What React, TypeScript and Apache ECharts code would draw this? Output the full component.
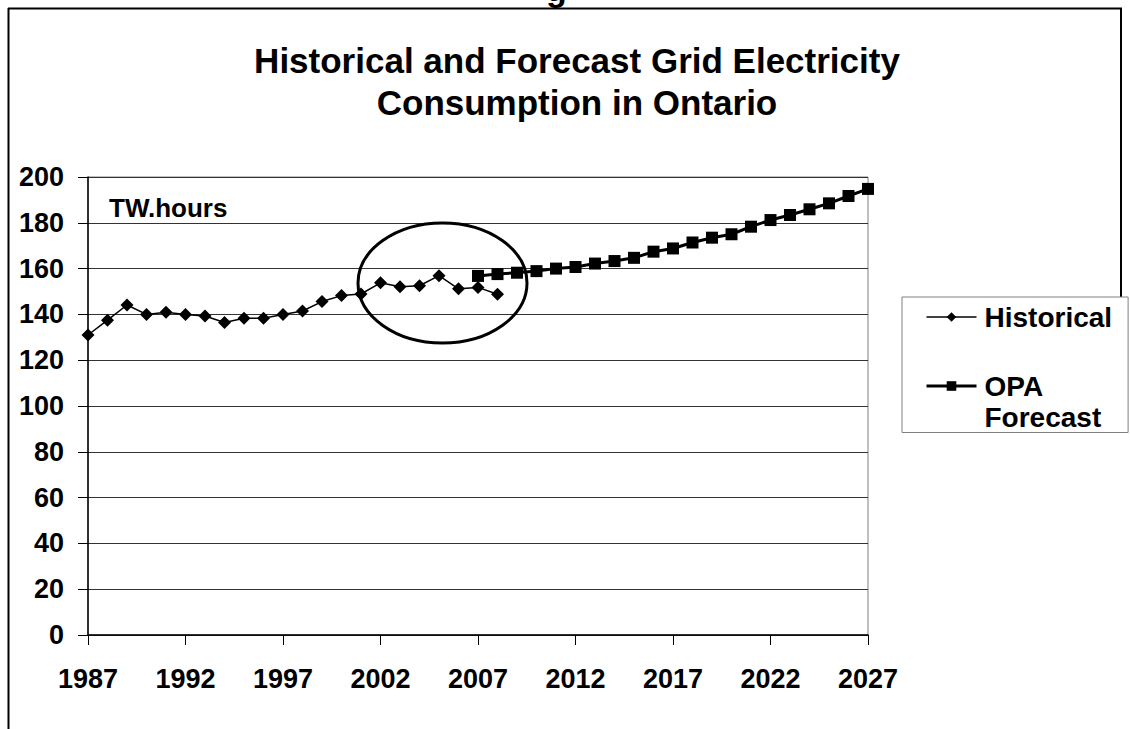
import React, { useEffect, useRef } from "react";
import * as echarts from "echarts";

const years = [
  "1987", "1988", "1989", "1990", "1991", "1992", "1993", "1994", "1995", "1996",
  "1997", "1998", "1999", "2000", "2001", "2002", "2003", "2004", "2005", "2006",
  "2007", "2008", "2009", "2010", "2011", "2012", "2013", "2014", "2015", "2016",
  "2017", "2018", "2019", "2020", "2021", "2022", "2023", "2024", "2025", "2026", "2027",
];

const historicalYears = years.slice(0, 22); // 1987-2008
const historical = [
  131.0, 137.5, 144.1, 140.0, 140.9, 140.0, 139.3, 136.5, 138.3, 138.3,
  140.0, 141.5, 145.6, 148.2, 148.9, 153.8, 152.1, 152.5, 156.9, 151.2,
  151.8, 148.8,
];

const forecastYears = years.slice(20); // 2007-2027
const forecast = [
  156.8, 157.6, 158.2, 158.9, 160.0, 160.7, 162.2, 163.3, 164.7, 167.4,
  168.8, 171.4, 173.5, 175.0, 178.3, 181.2, 183.4, 185.9, 188.5, 191.7, 194.8,
];

const yTicks = { min: 0, max: 200, interval: 20 };

const FONT = '"Liberation Sans", Arial, sans-serif';

export default function App() {
  const ref = useRef<HTMLDivElement>(null);

  useEffect(() => {
    if (!ref.current) return;
    const chart = echarts.init(ref.current, undefined, { renderer: "svg" });
    chart.setOption({
      animation: false,
      backgroundColor: "#ffffff",
      title: {
        text: "Historical and Forecast Grid Electricity\nConsumption in Ontario",
        left: 572,
        top: 34,
        textAlign: "center",
        textStyle: {
          fontFamily: FONT,
          fontSize: 35,
          fontWeight: "bold",
          color: "#000",
          lineHeight: 42,
        },
      },
      legend: {
        orient: "vertical",
        left: 902,
        top: 297,
        padding: [4.5, 16, 0, 23],
        itemGap: 7,
        itemWidth: 50,
        itemHeight: 12,
        borderColor: "#808080",
        borderWidth: 1,
        backgroundColor: "#fff",
        formatter: (name: string) => (name === "OPA Forecast" ? " \nOPA\nForecast" : name),
        textStyle: {
          fontFamily: FONT,
          fontSize: 28,
          fontWeight: "bold",
          color: "#000",
          lineHeight: 31,
          padding: [0, 0, 0, 3],
        },
        data: [
          { name: "Historical", lineStyle: { width: 1.5 } },
          { name: "OPA Forecast", lineStyle: { width: 3 } },
        ],
      },
      grid: {
        left: 88,
        right: 262,
        top: 177,
        bottom: 94,
        show: true,
        borderColor: "#808080",
        borderWidth: 1,
        outerBoundsMode: "none",
      },
      xAxis: {
        type: "category",
        data: years,
        boundaryGap: false,
        axisLine: { show: true, lineStyle: { color: "#000", width: 1.5 } },
        axisTick: { show: true, interval: 4, length: 10, lineStyle: { color: "#000" } },
        axisLabel: {
          interval: 4,
          margin: 30,
          fontFamily: FONT,
          fontSize: 27,
          fontWeight: "bold",
          color: "#000",
        },
        splitLine: { show: false },
      },
      yAxis: {
        type: "value",
        min: yTicks.min,
        max: yTicks.max,
        interval: yTicks.interval,
        axisLine: { show: true, lineStyle: { color: "#000", width: 1.5 } },
        axisTick: { show: true, length: 10, lineStyle: { color: "#000" } },
        axisLabel: {
          margin: 24,
          fontFamily: FONT,
          fontSize: 27,
          fontWeight: "bold",
          color: "#000",
        },
        splitLine: { show: true, lineStyle: { color: "#333", width: 1 } },
      },
      series: [
        {
          name: "Historical",
          type: "line",
          data: historicalYears.map((y, i) => [y, historical[i]]),
          symbol: "diamond",
          symbolSize: 13,
          showAllSymbol: true,
          itemStyle: { color: "#000" },
          lineStyle: { color: "#000", width: 1.5 },
          z: 3,
        },
        {
          name: "OPA Forecast",
          type: "line",
          data: forecastYears.map((y, i) => [y, forecast[i]]),
          symbol: "rect",
          symbolSize: 12,
          showAllSymbol: true,
          itemStyle: { color: "#000" },
          lineStyle: { color: "#000", width: 3 },
          z: 4,
        },
      ],
      graphic: [
        {
          type: "text",
          left: 109,
          top: 195,
          style: {
            text: "TW.hours",
            fontFamily: FONT,
            fontSize: 26,
            fontWeight: "bold",
            fill: "#000",
          },
        },
        {
          type: "ellipse",
          shape: { cx: 442.5, cy: 283, rx: 84.5, ry: 60 },
          style: { fill: "none", stroke: "#000", lineWidth: 3 },
          z: 10,
        },
        {
          type: "line",
          shape: { x1: 8.5, y1: 8, x2: 8.5, y2: 729 },
          style: { stroke: "#000", lineWidth: 2 },
        },
        {
          type: "line",
          shape: { x1: 8, y1: 8.5, x2: 1122, y2: 8.5 },
          style: { stroke: "#000", lineWidth: 2 },
        },
        {
          type: "line",
          shape: { x1: 1121, y1: 8, x2: 1121, y2: 297 },
          style: { stroke: "#000", lineWidth: 2 },
        },
        {
          type: "text",
          x: 546,
          y: 6,
          style: {
            text: "g",
            fontFamily: FONT,
            fontSize: 34,
            fontWeight: "bold",
            fill: "#000",
            verticalAlign: "bottom",
          },
        },
      ],
    });
    return () => chart.dispose();
  }, []);

  return (
    <div
      ref={ref}
      style={{ position: "absolute", left: 0, top: 0, width: 1130, height: 729 }}
    />
  );
}
